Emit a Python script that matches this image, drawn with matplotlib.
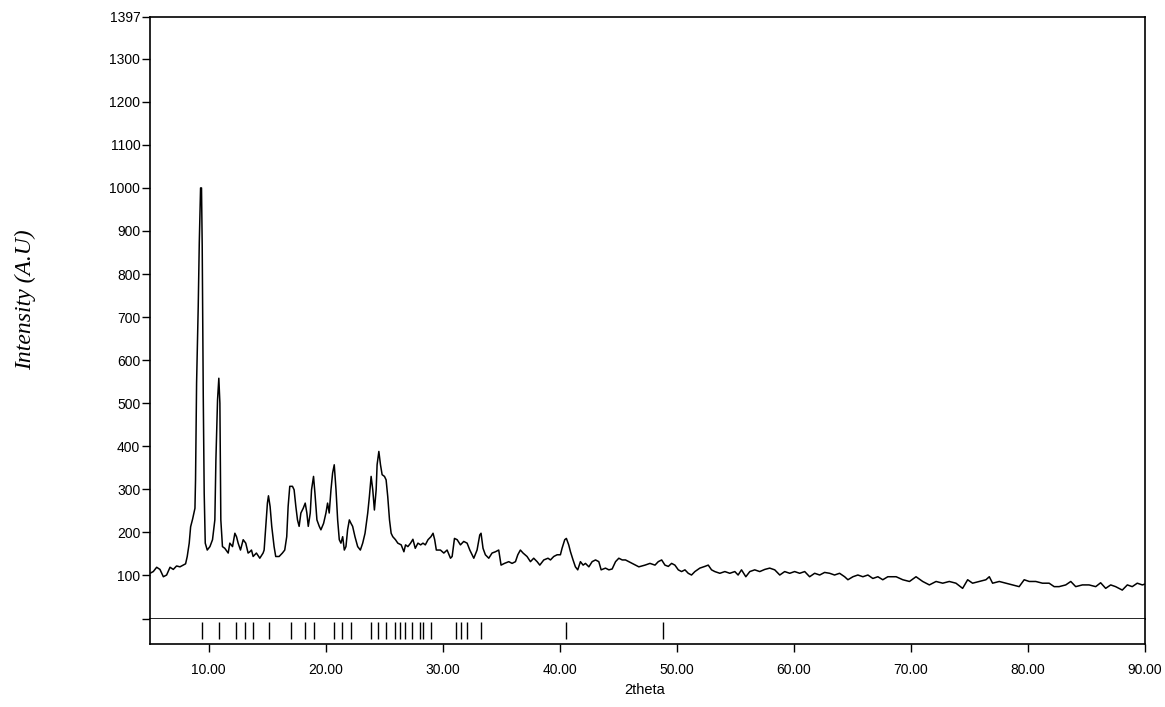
import numpy as np
import matplotlib.pyplot as plt

# XRD pattern (2theta in degrees, intensity in a.u.)
two_theta = [
    5.00, 5.28, 5.57, 5.85, 6.14, 6.42, 6.71, 6.99, 7.27, 7.56, 7.84, 8.04,
    8.18, 8.35, 8.47, 8.64, 8.84, 8.89, 8.98, 9.12, 9.21, 9.26, 9.32, 9.40,
    9.46, 9.55, 9.63, 9.72, 9.89, 10.12, 10.34, 10.54, 10.63, 10.77, 10.88,
    10.97, 11.05, 11.19, 11.39, 11.68, 11.82, 12.05, 12.25, 12.39, 12.53,
    12.73, 12.96, 13.18, 13.38, 13.53, 13.67, 13.81, 14.09, 14.38, 14.66,
    14.75, 14.89, 15.03, 15.12, 15.26, 15.40, 15.60, 15.74, 16.03, 16.31,
    16.51, 16.68, 16.80, 16.94, 17.17, 17.31, 17.46, 17.60, 17.74, 17.89,
    18.09, 18.26, 18.40, 18.52, 18.69, 18.80, 18.97, 19.09, 19.26, 19.46,
    19.60, 19.83, 20.03, 20.17, 20.31, 20.46, 20.60, 20.74, 20.89, 21.03,
    21.17, 21.31, 21.46, 21.60, 21.74, 21.88, 22.03, 22.17, 22.31, 22.51,
    22.74, 22.97, 23.17, 23.37, 23.60, 23.74, 23.89, 24.03, 24.17, 24.32,
    24.40, 24.55, 24.69, 24.83, 25.03, 25.17, 25.31, 25.46, 25.60, 25.74,
    25.97, 26.17, 26.46, 26.69, 26.83, 27.03, 27.26, 27.46, 27.66, 27.89,
    28.12, 28.32, 28.52, 28.75, 29.00, 29.18, 29.32, 29.46,
    29.81, 30.10, 30.38, 30.67, 30.81, 31.01, 31.24, 31.52, 31.80, 32.09,
    32.32, 32.66, 32.94, 33.17, 33.28, 33.45, 33.65, 33.94, 34.22, 34.51,
    34.79, 34.99, 35.28, 35.65, 35.93, 36.22, 36.42, 36.64, 36.87, 37.21,
    37.50, 37.78, 38.07, 38.30, 38.64, 39.00, 39.21, 39.49, 39.78, 40.06,
    40.20, 40.43, 40.57, 40.77, 40.92, 41.14, 41.34, 41.54, 41.77, 42.00,
    42.20, 42.49, 42.77, 43.06, 43.34, 43.54, 43.91, 44.20, 44.48, 44.77,
    45.05, 45.34, 45.62, 45.91, 46.19, 46.48, 46.76,
    47.29, 47.71, 48.14, 48.42, 48.71, 48.99, 49.28, 49.56, 49.84, 50.13,
    50.41, 50.70, 50.98, 51.26, 51.55, 51.97, 52.40, 52.69, 52.97, 53.25,
    53.68, 54.11, 54.53, 54.96, 55.24, 55.53, 55.90, 56.24, 56.66, 57.09,
    57.52, 57.94, 58.37, 58.80, 59.22, 59.65, 60.07, 60.50, 60.93, 61.35,
    61.78, 62.21, 62.63, 63.06, 63.48, 63.91, 64.34, 64.62, 65.05, 65.47,
    65.90, 66.33, 66.75, 67.18, 67.60, 68.03,
    68.74, 69.31, 69.88, 70.44, 71.01, 71.58, 72.15, 72.72, 73.28, 73.85,
    74.42, 74.85, 75.27, 75.84, 76.41, 76.70, 76.98, 77.55, 78.12, 78.69,
    79.25, 79.68, 80.11, 80.67, 81.24, 81.81, 82.24, 82.66, 83.23, 83.66,
    84.08, 84.65, 85.22, 85.79, 86.21, 86.64, 87.07, 87.49, 88.06, 88.49,
    88.91, 89.34, 89.77, 90.00,
]
intensity = [
    105, 109, 119, 114, 97, 101, 119, 114, 122, 120, 124, 127,
    144, 175, 213, 231, 256, 322, 547, 725, 873, 927, 1000, 1000,
    865, 516, 291, 175, 159, 167, 183, 229, 369, 508, 558,
    500, 229, 167, 163, 152, 175, 167, 198, 190, 175,
    159, 183, 175, 152, 155, 159, 144, 152, 140, 152,
    159, 214, 268, 285, 260, 214, 167, 144, 144, 152,
    159, 190, 260, 307, 307, 299, 260, 229, 214, 245,
    256, 268, 245, 214, 245, 299, 330, 291, 229, 214,
    206, 221, 245, 268, 245, 299, 338, 357, 299, 229,
    183, 175, 190, 159, 167, 206, 229, 221, 214, 190,
    167, 159, 175, 198, 245, 283, 330, 299, 252, 299,
    357, 388, 357, 334, 330, 322, 283, 229, 198, 190,
    183, 175, 171, 155, 171, 167, 175, 184, 163, 175,
    171, 175, 171, 183, 190, 198, 183, 159,
    159, 152, 159, 140, 144, 186, 183, 171, 179, 175,
    159, 140, 159, 194, 198, 163, 148, 140, 152, 155,
    159, 124, 128, 132, 128, 132, 148, 159, 152, 144,
    132, 140, 132, 124, 136, 140, 136, 144, 148, 148,
    163, 183, 186, 171, 155, 136, 120, 113, 132, 124,
    128, 120, 132, 136, 132, 113, 117, 113, 115, 132,
    140, 136, 136, 132, 128, 124, 120,
    124, 128, 124, 132, 136, 124, 121, 128, 124, 113,
    109, 113, 105, 101, 109, 117, 121, 124, 113, 109,
    105, 109, 105, 109, 101, 113, 97, 109, 113, 109,
    114, 117, 113, 101, 109, 105, 109, 105, 109, 97,
    105, 101, 107, 105, 101, 105, 97, 90, 97, 101,
    97, 101, 93, 97, 90, 97,
    97, 90, 86, 97, 86, 78, 86, 82, 86, 82,
    70, 90, 82, 86, 90, 97, 82, 86, 82, 78,
    74, 90, 86, 86, 82, 82, 74, 74, 78, 86,
    74, 78, 78, 74, 83, 70, 78, 74, 66, 78,
    74, 82, 78, 80,
]

# reflection positions shown in the strip under the pattern
peak_pos = [
    9.41, 10.91, 12.33, 13.10, 13.84, 15.17, 17.02, 18.21, 19.01, 20.71,
    21.43, 22.20, 23.84, 24.50, 25.18, 25.89, 26.34, 26.82, 27.40, 28.10,
    28.33, 29.04, 31.17, 31.60, 32.08, 33.28, 40.55, 48.85,
]

y_ticks = [100, 200, 300, 400, 500, 600, 700, 800, 900, 1000, 1100, 1200, 1300, 1397]
x_ticks = [10, 20, 30, 40, 50, 60, 70, 80, 90]

W, H = 1165, 707
fig = plt.figure(figsize=(W / 100, H / 100), dpi=100)
plt.rcParams['font.family'] = ['Liberation Sans', 'DejaVu Sans']

# main pattern
ax = fig.add_axes([150 / W, 1 - 618.5 / H, 995 / W, 601.5 / H])
ax.plot(two_theta, intensity, color='black', lw=1.1)
ax.set_xlim(5, 90)
ax.set_ylim(0, 1397)
ax.set_yticks([0] + y_ticks)
ax.set_yticklabels([''] + [str(v) for v in y_ticks], fontsize=10)
ax.set_xticks([])
ax.tick_params(axis='y', direction='out', length=6, width=1, pad=1)
for s in ax.spines.values():
    s.set_linewidth(1.2)

# strip of reflection markers
ax2 = fig.add_axes([150 / W, 1 - 644 / H, 995 / W, 25.5 / H])
ax2.vlines(peak_pos, 0.2, 0.85, color='black', lw=1.0)
ax2.set_xlim(5, 90)
ax2.set_ylim(0, 1)
ax2.set_yticks([])
ax2.spines['top'].set_visible(False)
for s in ['left', 'right', 'bottom']:
    ax2.spines[s].set_linewidth(1.2)
ax2.set_xticks(x_ticks)
ax2.set_xticklabels(['%.2f' % v for v in x_ticks], fontsize=10)
ax2.tick_params(axis='x', direction='out', length=6, width=1, pad=8)

fig.text(645 / W, 1 - 690 / H, '2theta', ha='center', va='center', fontsize=10.5)
fig.text(25 / W, 1 - 300 / H, 'Intensity (A.U)', rotation=90, ha='center', va='center',
         fontsize=17, style='italic', family=['Liberation Serif', 'DejaVu Serif'])

fig.savefig('out.png', dpi=100)
